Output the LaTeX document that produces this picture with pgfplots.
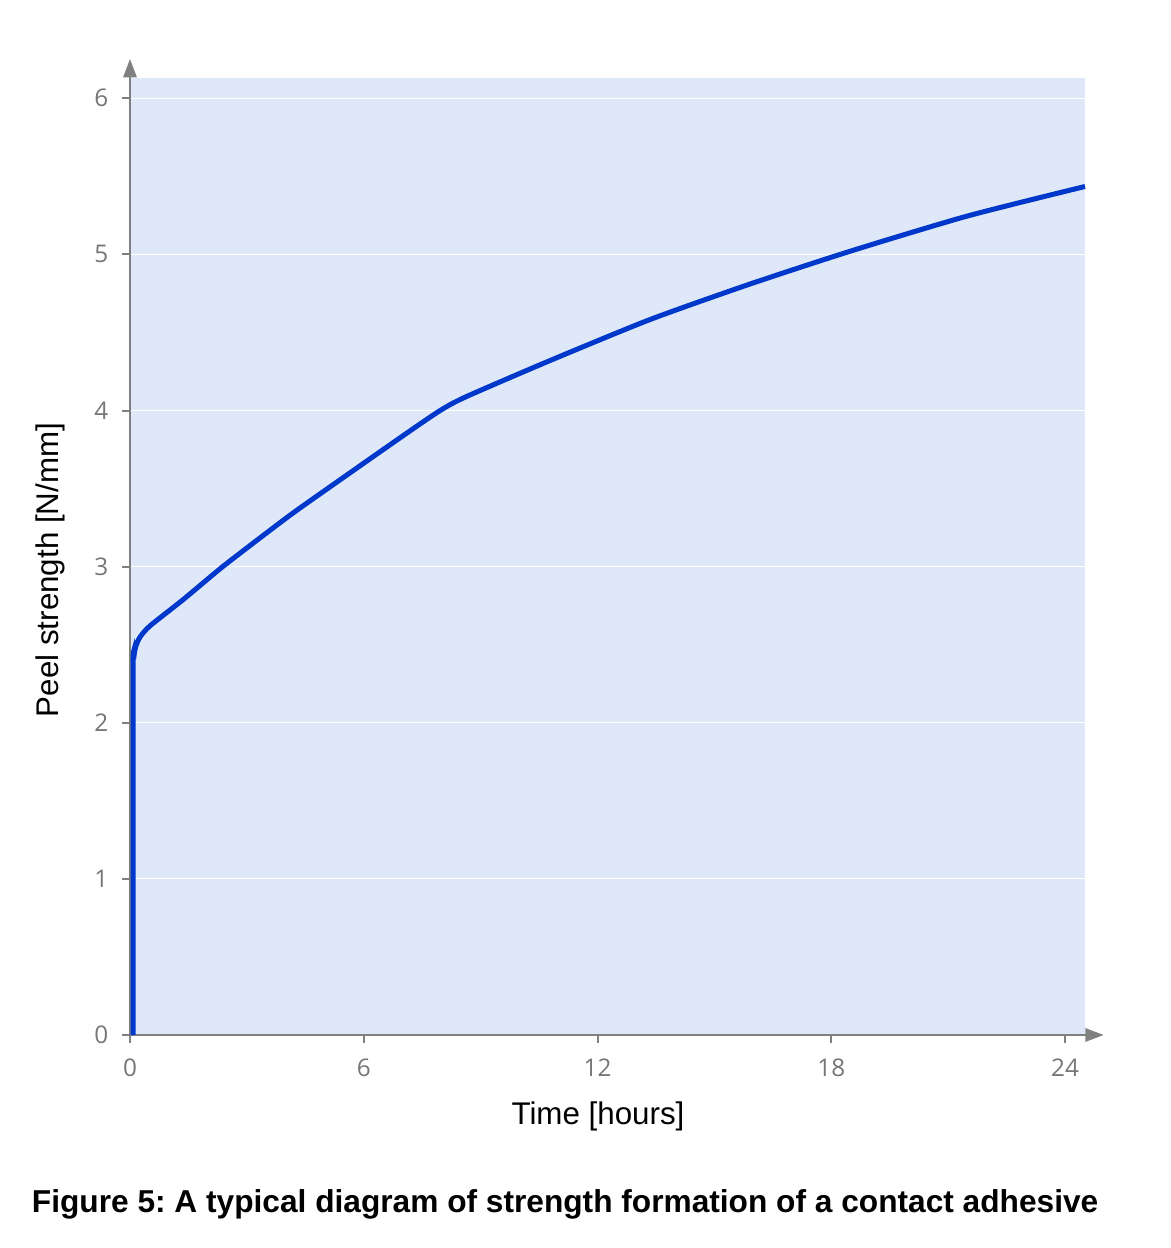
\documentclass[border=0pt]{standalone}
\usepackage{pgfplots}
\pgfplotsset{compat=1.18}
\usepackage{fontspec}
\setmainfont{Liberation Sans}
\newfontfamily\tickfont{Open Sans}
\usetikzlibrary{arrows.meta}
\definecolor{bgblue}{RGB}{223,232,248}
\definecolor{curveblue}{RGB}{0,56,204}
\definecolor{axgray}{RGB}{128,128,128}
\definecolor{tickgray}{RGB}{118,118,118}
\frenchspacing
\begin{document}
\begin{tikzpicture}
\path[use as bounding box] (-39pt,-63.9pt) rectangle (312pt,310.5pt);
\begin{axis}[
  at={(0,0)}, anchor=south west,
  scale only axis,
  width=286.5pt, height=287.1pt,
  xmin=0, xmax=24.51, ymin=0, ymax=6.13,
  axis x line*=bottom, axis y line*=left,
  axis line style={draw=axgray, line width=0.6pt},
  axis background/.style={fill=bgblue, draw=none},
  xtick={0,6,12,18,24}, ytick={0,1,2,3,4,5,6},
  tick align=outside, major tick length=2.4pt,
  tick style={draw=axgray, line width=0.6pt},
  ymajorgrids, grid style={draw=white, line width=0.35pt},
  /pgf/number format/assume math mode=true,
  ticklabel style={font=\tickfont\fontsize{7.3}{8}\selectfont, text=tickgray, inner sep=0pt},
  xticklabel style={anchor=north},
  yticklabel style={anchor=east},
  xticklabel shift=4.5pt, yticklabel shift=3.9pt,
  clip=false,
]
\addplot[curveblue, line width=1.5pt, smooth, tension=0.4] coordinates {
  (0.08,0) (0.08,2.30) (0.10,2.42) (0.15,2.49) (0.26,2.55) (0.51,2.62)
  (1.37,2.79) (2.38,3.00) (3.50,3.215) (4.36,3.375) (6.93,3.825) (7.96,4.00)
  (8.64,4.09) (10.78,4.32) (13.35,4.583) (15.91,4.81) (18.48,5.02)
  (21.48,5.245) (24.51,5.435)
};
\draw[axgray, line width=0.6pt, -{Triangle[length=5.5pt,width=4pt]}] (rel axis cs:1,0) -- ++(5.6pt,0);
\draw[axgray, line width=0.6pt, -{Triangle[length=5.5pt,width=4pt]}] (rel axis cs:0,1) -- ++(0,5.7pt);
\end{axis}
\node[anchor=base, font=\fontsize{9.4}{11}\selectfont] at (140.4pt,-26.7pt) {Time [hours]};
\node[anchor=base, rotate=90, font=\fontsize{9.4}{11}\selectfont] at (-21.5pt,139.5pt) {Peel strength [N/mm]};
\node[anchor=base west, inner sep=0pt, font=\bfseries\fontsize{9.5}{11}\selectfont] at (-29.6pt,-53.1pt) {Figure 5: A typical diagram of strength formation of a contact adhesive};
\end{tikzpicture}
\end{document}
